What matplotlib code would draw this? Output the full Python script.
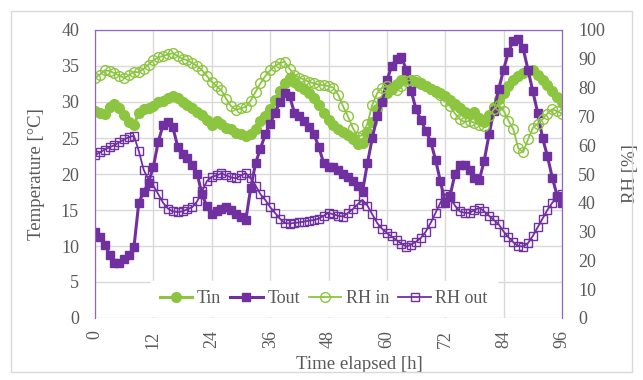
import numpy as np
import matplotlib
matplotlib.use("Agg")
import matplotlib.pyplot as plt
from matplotlib.patches import Rectangle

# hourly readings, 0..96 h
hours = np.arange(0, 97)

t_in = [28.7, 28.5, 28.3, 29.3, 29.7, 29.2, 28.2, 27.2, 26.8, 28.5,
        29.0, 29.2, 29.5, 30.0, 30.2, 30.6, 30.8, 30.5, 30.0, 29.6,
        29.2, 28.6, 28.2, 27.5, 26.8, 27.3, 27.0, 26.4, 26.2, 25.7,
        25.5, 25.3, 25.6, 26.3, 27.3, 28.0, 29.0, 30.3, 31.5, 32.6,
        33.4, 32.8, 32.2, 31.8, 31.2, 30.5, 29.6, 28.5, 27.5, 26.8,
        26.2, 25.8, 25.4, 24.8, 24.2, 24.3, 25.8, 27.2, 29.0, 30.2,
        31.2, 31.8, 32.5, 33.0, 33.2, 33.1, 32.8, 32.5, 32.2, 31.8,
        31.5, 31.2, 30.8, 30.3, 29.7, 29.2, 28.6, 28.4, 28.6, 27.8,
        27.2, 28.2, 29.3, 30.4, 31.3, 32.2, 33.0, 33.6, 34.0, 34.3,
        34.5, 33.7, 33.0, 32.3, 31.5, 30.7, 30.0]

t_out = [12.0, 11.3, 10.2, 8.8, 7.6, 7.6, 8.2, 8.8, 9.8, 16.0,
         17.5, 18.8, 21.0, 24.5, 26.8, 27.2, 26.5, 23.8, 22.8, 22.2,
         21.2, 20.0, 17.2, 15.5, 14.5, 14.8, 15.2, 15.4, 15.0, 14.5,
         14.0, 13.6, 18.0, 21.5, 23.5, 25.5, 27.0, 28.5, 30.0, 31.2,
         30.8, 28.5, 28.0, 27.4, 26.5, 25.5, 23.8, 21.5, 21.0, 21.0,
         20.6, 20.0, 19.6, 19.0, 18.3, 17.6, 21.5, 25.0, 28.0, 30.0,
         33.0, 35.0, 36.0, 36.2, 34.5, 31.5, 29.0, 27.5, 26.0, 24.5,
         22.0, 19.0, 16.0, 17.0, 20.0, 21.2, 21.3, 20.5, 19.5, 19.2,
         21.8, 25.5, 28.8, 31.8, 34.5, 37.0, 38.5, 38.8, 37.5, 34.5,
         31.5, 28.5, 25.0, 22.5, 19.5, 17.0, 16.0]

rh_in = [83.3, 84.5, 86.0, 85.8, 85.0, 84.2, 83.3, 84.3, 85.5, 85.3,
         86.5, 88.0, 89.5, 90.5, 91.0, 91.5, 92.0, 91.0, 90.0, 89.5,
         88.5, 87.5, 86.0, 84.0, 82.0, 80.5, 79.0, 76.0, 73.5, 72.3,
         72.8, 73.3, 75.5, 78.5, 81.5, 84.0, 86.0, 87.5, 88.5, 89.0,
         86.5, 84.5, 83.5, 82.8, 82.0, 81.5, 81.0, 80.8, 80.5, 80.0,
         77.5, 73.5, 70.0, 66.0, 63.0, 63.5, 67.5, 74.0, 78.0, 80.0,
         80.5, 80.0, 79.2, 80.5, 82.3, 82.6, 82.5, 81.5, 80.5, 79.5,
         78.5, 77.5, 75.5, 73.5, 71.0, 69.0, 68.0, 68.5, 67.8, 67.0,
         66.5, 70.0, 72.5, 74.0, 72.0, 68.5, 65.5, 59.0, 57.5, 62.0,
         66.0, 67.5, 69.0, 71.0, 72.5, 71.8, 71.0]

rh_out = [56.6, 57.5, 58.5, 59.3, 60.0, 61.0, 62.0, 62.8, 63.3, 58.0,
          51.5, 48.0, 46.0, 43.0, 40.0, 38.0, 37.0, 36.8, 37.0, 37.8,
          38.5, 40.5, 44.0, 47.5, 49.0, 49.5, 50.2, 49.5, 48.8, 48.5,
          49.5, 50.3, 48.5, 46.0, 43.0, 41.0, 38.5, 36.5, 34.5, 33.0,
          32.8, 33.0, 33.2, 33.5, 33.8, 34.0, 34.5, 35.5, 36.5, 36.0,
          35.5, 35.2, 36.5, 37.8, 39.5, 41.0, 39.0, 36.0, 33.0, 31.0,
          29.5, 28.3, 27.0, 25.8, 24.8, 25.5, 26.5, 27.8, 30.0, 33.0,
          36.5, 40.0, 43.0, 42.0, 39.0, 37.0, 36.5, 36.5, 37.5, 38.3,
          37.0, 35.5, 34.0, 32.5, 30.0, 28.0, 26.3, 25.0, 24.8, 26.0,
          28.5, 31.5, 34.5, 37.5, 40.0, 42.0, 43.0]

x_ticks = np.arange(0, 97, 12)
t_ticks = np.arange(0, 41, 5)
rh_ticks = np.arange(0, 101, 10)

green = "#8CC540"
purple = "#7030A0"
spine_col = "#9364C4"
text_col = "#595959"
grid_col = "#D9D9D9"

plt.rcParams["font.family"] = ["Liberation Serif", "DejaVu Serif"]

fig = plt.figure(figsize=(6.43, 3.80), dpi=100)
ax1 = fig.add_axes([95 / 643, 1 - 318 / 380, (562 - 95) / 643, (318 - 30) / 380])
ax2 = ax1.twinx()

# chart area border
fig.patches.append(Rectangle((11 / 643, 1 - 372 / 380), 621 / 643, 361 / 380,
                             transform=fig.transFigure, fill=False,
                             edgecolor=grid_col, linewidth=1))

l1, = ax1.plot(hours, t_in, color=green, lw=2.2, marker="o", ms=7,
               mfc=green, mec=green, label="Tin")
l2, = ax1.plot(hours, t_out, color=purple, lw=2.2, marker="s", ms=6.2,
               mfc=purple, mec=purple, label="Tout")
l3, = ax2.plot(hours, rh_in, color=green, lw=1.3, marker="o", ms=7,
               mfc="none", mec=green, mew=1.0, label="RH in")
l4, = ax2.plot(hours, rh_out, color=purple, lw=1.3, marker="s", ms=6,
               mfc="none", mec=purple, mew=1.0, label="RH out")

ax1.set_xlim(0, 96)
ax1.set_ylim(0, 40)
ax2.set_ylim(0, 100)
ax1.set_xticks(x_ticks)
ax1.set_xticklabels([str(v) for v in x_ticks], rotation=90)
ax1.set_yticks(t_ticks)
ax2.set_yticks(rh_ticks)

ax1.grid(True, color=grid_col, lw=1)
ax1.set_axisbelow(True)

for ax in (ax1, ax2):
    ax.tick_params(length=0, labelsize=13, colors=text_col)
    ax.tick_params(axis="y", pad=11.5)
    ax.tick_params(axis="x", pad=9)
    ax.spines["bottom"].set_visible(False)
    ax.spines["top"].set_color(spine_col)
    ax.spines["left"].set_color(spine_col)
    ax.spines["right"].set_color(spine_col)

ax1.set_xlabel("Time elapsed [h]", fontsize=13.5, color=text_col,
               labelpad=5, x=0.567)
ax1.set_ylabel("Temperature [°C]", fontsize=13.5, color=text_col, labelpad=11.5)
ax2.set_ylabel("RH [%]", fontsize=13.5, color=text_col, labelpad=12)

leg = ax2.legend(handles=[l1, l2, l3, l4], loc="center", ncol=4,
                 bbox_to_anchor=(0.49, 0.068), frameon=True, fancybox=False,
                 edgecolor="white", framealpha=1, fontsize=13,
                 handlelength=1.8, handletextpad=0.25, columnspacing=0.5,
                 borderpad=0.5)
for t in leg.get_texts():
    t.set_color(text_col)

fig.savefig("out.png", dpi=100)
